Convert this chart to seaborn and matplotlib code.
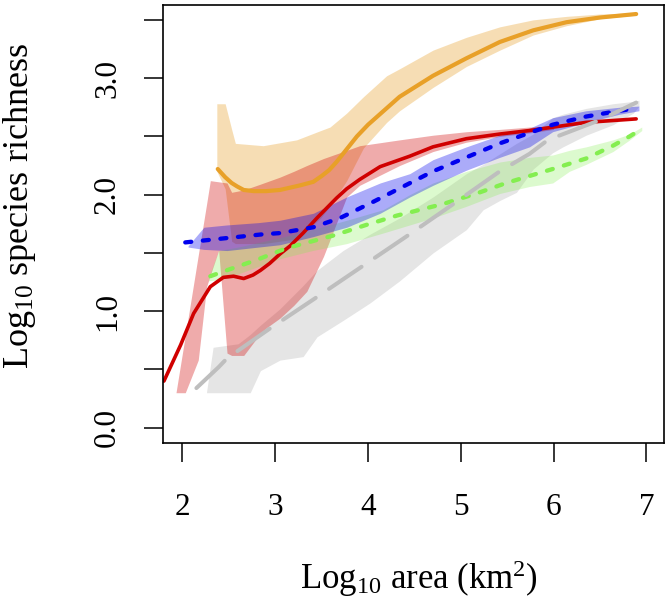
import numpy as np
import pandas as pd
import matplotlib
matplotlib.use("Agg")
import matplotlib.pyplot as plt
import seaborn as sns

# ---------------- data ----------------
x_ticks = [2, 3, 4, 5, 6, 7]
y_ticks = [0.0, 0.5, 1.0, 1.5, 2.0, 2.5, 3.0, 3.5]
y_tick_labels = ["0.0", "", "1.0", "", "2.0", "", "3.0", ""]

# orange series
orange_x = [2.38, 2.46, 2.53, 2.59, 2.66, 2.77, 2.90, 3.05, 3.27, 3.41, 3.50, 3.58, 3.66, 3.77,
            3.88, 4.00, 4.34, 4.70, 5.06, 5.42, 5.78, 6.14, 6.50, 6.89]
orange_y = [2.22, 2.15, 2.10, 2.07, 2.04, 2.03, 2.03, 2.04, 2.08, 2.11, 2.16, 2.21, 2.28, 2.39,
            2.50, 2.60, 2.84, 3.02, 3.17, 3.31, 3.41, 3.48, 3.52, 3.55]
orange_band_x = [2.37, 2.46, 2.53, 2.57, 2.87, 3.23, 3.49, 3.59, 3.77, 3.95, 4.20, 4.34, 4.70,
                 5.06, 5.42, 5.78, 6.14, 6.50, 6.89]
orange_band_hi = [2.78, 2.78, 2.56, 2.44, 2.42, 2.47, 2.55, 2.58, 2.70, 2.84, 3.02, 3.08, 3.24,
                  3.35, 3.44, 3.50, 3.53, 3.55, 3.56]
orange_band_lo = [2.20, 2.05, 1.60, 1.58, 1.58, 1.62, 1.80, 1.90, 2.12, 2.40, 2.62, 2.72, 2.92,
                  3.10, 3.24, 3.37, 3.45, 3.51, 3.54]

# red series
red_x = [1.80, 1.98, 2.12, 2.30, 2.44, 2.55, 2.66, 2.76, 2.84, 2.94, 3.05, 3.16, 3.30, 3.45,
         3.66, 3.77, 3.91, 4.13, 4.45, 4.70, 5.06, 5.42, 5.74, 6.00, 6.35, 6.71, 6.89]
red_y = [0.40, 0.71, 0.98, 1.21, 1.29, 1.30, 1.28, 1.31, 1.35, 1.41, 1.49, 1.56, 1.67, 1.80,
         1.97, 2.05, 2.13, 2.24, 2.33, 2.41, 2.48, 2.52, 2.55, 2.58, 2.62, 2.64, 2.65]
red_band_x = [1.93, 2.03, 2.17, 2.26, 2.30, 2.39, 2.48, 2.53, 2.66, 2.84, 2.91, 3.05, 3.20,
              3.34, 3.52, 3.77, 3.91, 4.34, 4.70, 5.06, 5.42, 5.74, 6.00]
red_band_hi = [0.30, 0.79, 1.48, 1.92, 2.12, 2.11, 2.10, 2.02, 2.04, 2.09, 2.11, 2.15, 2.20,
               2.25, 2.31, 2.38, 2.42, 2.47, 2.51, 2.54, 2.56, 2.58, 2.59]
red_band_lo = [0.30, 0.30, 0.58, 1.21, 1.31, 1.52, 0.64, 0.62, 0.62, 0.81, 0.86, 0.94, 1.05,
               1.17, 1.47, 1.98, 2.08, 2.25, 2.37, 2.45, 2.50, 2.53, 2.56]

# green series
green_x = [2.30, 2.51, 2.80, 3.12, 3.63, 3.98, 4.31, 4.81, 5.17, 5.49, 5.99, 6.35, 6.64, 6.82, 6.92]
green_y = [1.30, 1.36, 1.44, 1.54, 1.65, 1.74, 1.82, 1.92, 2.01, 2.10, 2.22, 2.31, 2.42, 2.50, 2.55]
green_band_x = [2.28, 2.39, 2.60, 3.05, 3.40, 3.77, 4.16, 4.45, 4.70, 5.06, 5.42, 5.74, 5.99,
                6.17, 6.35, 6.64, 6.82, 6.95]
green_band_hi = [1.29, 1.52, 1.55, 1.63, 1.70, 1.78, 1.87, 2.00, 2.10, 2.20, 2.28, 2.32, 2.34,
                 2.38, 2.41, 2.47, 2.52, 2.58]
green_band_lo = [1.26, 1.27, 1.32, 1.45, 1.52, 1.58, 1.67, 1.74, 1.80, 1.90, 2.01, 2.07, 2.10,
                 2.20, 2.26, 2.37, 2.47, 2.55]

# blue series
blue_x = [2.03, 2.51, 2.87, 3.05, 3.41, 3.70, 4.06, 4.38, 4.70, 5.06, 5.42, 5.74, 5.99, 6.35,
          6.71, 6.89]
blue_y = [1.59, 1.63, 1.66, 1.67, 1.72, 1.80, 1.94, 2.07, 2.20, 2.32, 2.44, 2.53, 2.60, 2.67,
          2.72, 2.74]
blue_band_x = [2.06, 2.23, 2.48, 2.82, 3.05, 3.41, 3.77, 4.13, 4.45, 4.70, 5.06, 5.42, 5.74,
               5.99, 6.35, 6.71, 6.92]
blue_band_hi = [1.56, 1.72, 1.74, 1.76, 1.78, 1.84, 1.98, 2.10, 2.18, 2.30, 2.41, 2.51, 2.57,
                2.66, 2.72, 2.75, 2.76]
blue_band_lo = [1.55, 1.53, 1.52, 1.55, 1.57, 1.64, 1.72, 1.84, 1.98, 2.08, 2.21, 2.32, 2.41,
                2.54, 2.62, 2.69, 2.72]

# grey series
grey_x = [2.15, 2.39, 2.48, 2.94, 3.41, 3.91, 4.43, 4.92, 5.42, 5.74, 5.94, 6.50, 6.89]
grey_y = [0.34, 0.52, 0.595, 0.85, 1.10, 1.37, 1.65, 1.92, 2.20, 2.35, 2.47, 2.64, 2.79]
grey_band_x = [2.26, 2.33, 2.60, 2.73, 2.84, 3.05, 3.30, 3.45, 3.73, 4.02, 4.34, 4.70, 5.06,
               5.24, 5.42, 5.60, 5.78, 5.99, 6.10, 6.35, 6.64, 6.86, 6.92]
grey_band_hi = [0.31, 0.69, 0.72, 0.80, 0.88, 1.02, 1.22, 1.35, 1.52, 1.66, 1.80, 1.98, 2.18,
                2.26, 2.35, 2.44, 2.52, 2.66, 2.69, 2.74, 2.78, 2.80, 2.81]
grey_band_lo = [0.30, 0.30, 0.30, 0.30, 0.49, 0.58, 0.61, 0.78, 0.92, 1.07, 1.26, 1.50, 1.70,
                1.87, 1.95, 2.02, 2.22, 2.36, 2.41, 2.51, 2.60, 2.70, 2.76]

# ---------------- styling ----------------
sns.set_theme(style="ticks")
plt.rcParams["font.family"] = ["Liberation Serif", "DejaVu Serif"]
plt.rcParams["mathtext.fontset"] = "custom"
plt.rcParams["mathtext.rm"] = "Liberation Serif"
plt.rcParams["mathtext.it"] = "Liberation Serif:italic"
plt.rcParams["axes.edgecolor"] = "black"
plt.rcParams["xtick.color"] = "black"
plt.rcParams["ytick.color"] = "black"
plt.rcParams["text.color"] = "black"
plt.rcParams["axes.labelcolor"] = "black"

FS_TICK = 22.5
FS_XLAB = 25
FS_YLAB = 26

fig = plt.figure(figsize=(6.69, 6.08), dpi=100)
ax = fig.add_axes([163 / 669, (608 - 443.3) / 608, 501 / 669, 438.6 / 608])

C_OR = "#E8A028"
C_RED = "#D00000"
C_GRN = "#84EE50"
C_BLU = "#0000EE"
C_GRY = "#BEBEBE"

# grey
ax.fill_between(grey_band_x, grey_band_lo, grey_band_hi, color=C_GRY, alpha=0.40, lw=0)
# orange
ax.fill_between(orange_band_x, orange_band_lo, orange_band_hi, color=C_OR, alpha=0.35, lw=0)
sns.lineplot(x=orange_x, y=orange_y, ax=ax, color=C_OR, lw=3.0, sort=False,
             solid_capstyle="round")
# red
ax.fill_between(red_band_x, red_band_lo, red_band_hi, color=C_RED, alpha=0.33, lw=0)
sns.lineplot(x=red_x, y=red_y, ax=ax, color=C_RED, lw=2.6, sort=False,
             solid_capstyle="round")
# green
ax.fill_between(green_band_x, green_band_lo, green_band_hi, color=C_GRN, alpha=0.28, lw=0)
sns.lineplot(x=green_x, y=green_y, ax=ax, color=C_GRN, lw=3.1, sort=False,
             linestyle=(0, (1.4, 2.7)), dash_capstyle="round")
# blue
ax.fill_between(blue_band_x, blue_band_lo, blue_band_hi, color=C_BLU, alpha=0.33, lw=0)
sns.lineplot(x=blue_x, y=blue_y, ax=ax, color=C_BLU, lw=3.1, sort=False,
             linestyle=(0, (1.4, 2.7)), dash_capstyle="round")
# grey line
sns.lineplot(x=grey_x, y=grey_y, ax=ax, color=C_GRY, lw=2.9, sort=False,
             linestyle=(0, (9.75, 4.0)), dash_capstyle="round")

ax.set_xlim(1.79, 7.19)
ax.set_ylim(-0.134, 3.63)
ax.set_xticks(x_ticks)
ax.set_xticklabels([str(v) for v in x_ticks])
ax.set_yticks(y_ticks)
ax.set_yticklabels(y_tick_labels)
for lab in ax.get_yticklabels():
    lab.set_rotation(90)
    lab.set_va("center")

ax.tick_params(axis="both", direction="out", length=13.5, width=1.1, labelsize=FS_TICK,
               color="black")
ax.tick_params(axis="x", pad=22)
ax.tick_params(axis="y", pad=16)
for s in ax.spines.values():
    s.set_visible(True)
    s.set_linewidth(1.2)
    s.set_color("black")

ax.set_xlabel(r"Log$_{10}$ area (km$^{\mathregular{2}}$)", fontsize=FS_XLAB)
ax.set_ylabel(r"Log$_{10}$ species richness", fontsize=FS_YLAB)
ax.xaxis.set_label_coords(0.51, -0.262)
ax.yaxis.set_label_coords(-0.25, 0.541)
ax.grid(False)

fig.savefig("out.png", dpi=100)
